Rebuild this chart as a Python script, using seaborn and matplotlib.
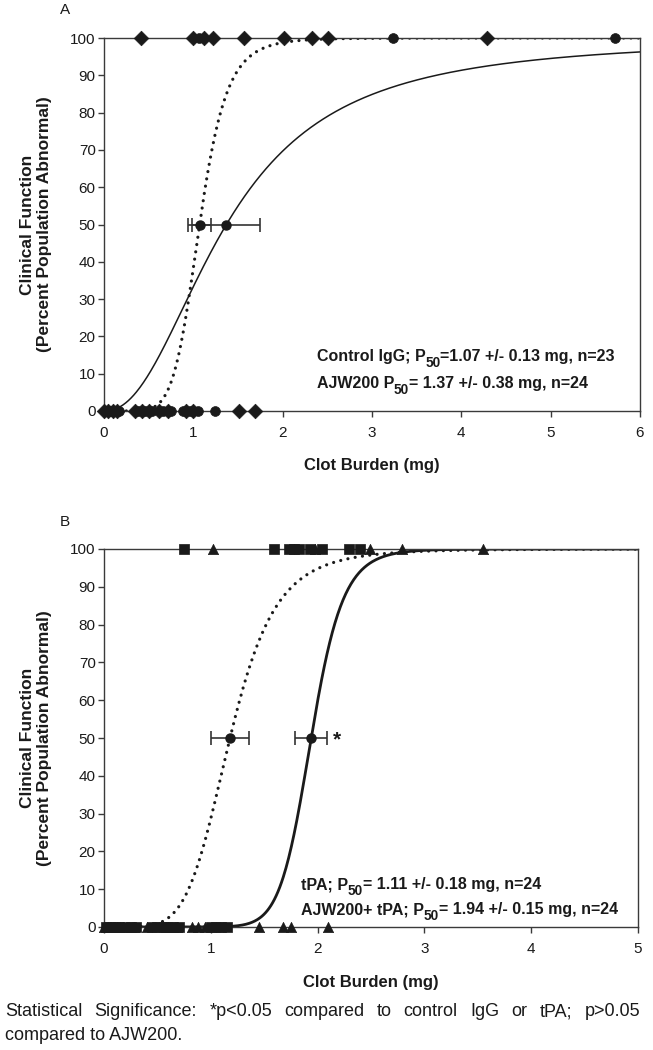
import numpy as np
import pandas as pd
import seaborn as sns
import matplotlib
matplotlib.use("Agg")
import matplotlib.pyplot as plt

# ---------------- data ----------------
# Panel A: single animals, 100 = abnormal, 0 = normal (clot burden in mg)
ajw_abnormal = [0.41, 1.00, 1.12, 1.22, 1.57, 2.02, 2.33, 2.51, 4.29]
ajw_normal = [0.00, 0.05, 0.10, 0.15, 0.35, 0.42, 0.50, 0.62, 0.72, 0.92, 1.00, 1.51, 1.69]
igg_abnormal = [1.06, 3.24, 5.72]
igg_normal = [0.02, 0.08, 0.17, 0.38, 0.46, 0.54, 0.66, 0.75, 0.88, 0.96, 1.05, 1.24]

# Panel B
tpa_abnormal = [0.75, 1.59, 1.73, 1.78, 1.83, 1.93, 2.04, 2.29, 2.40]
tpa_normal = [0.02, 0.06, 0.10, 0.14, 0.20, 0.25, 0.30, 0.45, 0.50, 0.55, 0.60,
              0.65, 0.70, 1.00, 1.05, 1.10, 1.15]
combo_abnormal = [1.02, 1.98, 2.49, 2.79, 3.55]
combo_normal = [0.00, 0.04, 0.08, 0.12, 0.18, 0.28, 0.40, 0.58, 0.68, 0.82, 0.88,
                0.95, 1.45, 1.68, 1.75, 2.10]

# fitted dose-response curves: P50 (mg), +/- error, hill slope
igg_p50, igg_err, igg_hill = 1.07, 0.13, 7.0
ajw_p50, ajw_err, ajw_hill = 1.37, 0.38, 2.2
tpa_p50, tpa_err, tpa_hill = 1.18, 0.18, 5.5
combo_p50, combo_err, combo_hill = 1.94, 0.15, 13.0

yticks = list(range(0, 101, 10))

# ---------------- style ----------------
sns.set_style("ticks")
plt.rcParams['font.family'] = ['Liberation Sans', 'DejaVu Sans']

INK = '#1a1a1a'
SPINE = '#3a3a3a'

fig = plt.figure(figsize=(6.53, 10.5), dpi=100)
W, H = 653, 1050
axA = fig.add_axes([104 / W, 1 - 411 / H, 536 / W, 373 / H])
axB = fig.add_axes([104 / W, 1 - 927 / H, 534 / W, 378 / H])
renderer = fig.canvas.get_renderer()


def hill(x, p50, h):
    return 100.0 / (1.0 + (p50 / x) ** h)


def draw_curve(ax, xmax, p50, h, dotted, lw):
    xs = np.linspace(0.002, xmax, 600)
    df = pd.DataFrame({'x': xs, 'y': hill(xs, p50, h)})
    kw = dict(color=INK, linewidth=lw)
    if dotted:
        kw.update(linestyle=(0, (0.01, 2.3)), dash_capstyle='round')
    sns.lineplot(data=df, x='x', y='y', ax=ax, **kw)


def draw_points(ax, xs, level, marker, size):
    df = pd.DataFrame({'x': xs, 'y': [level] * len(xs)})
    sns.scatterplot(data=df, x='x', y='y', ax=ax, marker=marker, s=size,
                    color=INK, edgecolor=INK, linewidth=0.5, clip_on=False, zorder=5)


def rich_text(ax, x, y, parts, size=11.5):
    # parts: (text, relative size, vertical shift in points) -> P with a large subscript 50
    off = 0.0
    for s, rel, dy in parts:
        t = ax.annotate(s, xy=(x, y), xytext=(off, dy), textcoords='offset points',
                        fontsize=size * rel, fontweight='bold', color=INK,
                        va='baseline', ha='left')
        off += t.get_window_extent(renderer).width * 72 / fig.dpi


def style_axes(ax, xmax):
    ax.set_xlim(0, xmax)
    ax.set_ylim(0, 100)
    ax.set_xticks(range(0, xmax + 1))
    ax.set_yticks(yticks)
    for s in ax.spines.values():
        s.set_visible(True)
        s.set_color(SPINE)
        s.set_linewidth(1.0)
    ax.tick_params(axis='y', length=4, width=1, color=SPINE, pad=2, labelsize=11, labelcolor=INK)
    ax.tick_params(axis='x', length=4, width=1, color=SPINE, pad=7, labelsize=11, labelcolor=INK)
    ax.set_xlabel('Clot Burden (mg)', fontsize=12, fontweight='bold', color=INK)
    ax.set_ylabel('Clinical Function\n(Percent Population Abnormal)', fontsize=12.5,
                  fontweight='bold', color=INK, linespacing=1.2)
    ax.yaxis.set_label_coords(-0.097, 0.5)


# ---------------- panel A ----------------
draw_curve(axA, 6, ajw_p50, ajw_hill, dotted=False, lw=1.1)
draw_curve(axA, 6, igg_p50, igg_hill, dotted=True, lw=2.3)
draw_points(axA, ajw_abnormal, 100, 'D', 55)
draw_points(axA, ajw_normal, 0, 'D', 55)
draw_points(axA, igg_abnormal, 100, 'o', 50)
draw_points(axA, igg_normal, 0, 'o', 50)
for p, e in [(igg_p50, igg_err), (ajw_p50, ajw_err)]:
    axA.errorbar(p, 50, xerr=e, fmt='o', ms=6.5, color=INK, ecolor='#333333',
                 elinewidth=1.2, capsize=5, capthick=1.2, zorder=6)
style_axes(axA, 6)
axA.xaxis.set_label_coords(0.5, -0.125)
rich_text(axA, 2.38, 13.4, [('Control IgG; P', 1, 0), ('50', 0.85, -4.5),
                            ('=1.07 +/- 0.13 mg, n=23', 1, 0)])
rich_text(axA, 2.38, 6.2, [('AJW200 P', 1, 0), ('50', 0.85, -4.5),
                           ('= 1.37 +/- 0.38 mg, n=24', 1, 0)])

# ---------------- panel B ----------------
draw_curve(axB, 5, combo_p50, combo_hill, dotted=False, lw=2.0)
draw_curve(axB, 5, tpa_p50, tpa_hill, dotted=True, lw=2.3)
draw_points(axB, tpa_abnormal, 100, 's', 42)
draw_points(axB, tpa_normal, 0, 's', 42)
draw_points(axB, combo_abnormal, 100, '^', 55)
draw_points(axB, combo_normal, 0, '^', 55)
for p, e in [(tpa_p50, tpa_err), (combo_p50, combo_err)]:
    axB.errorbar(p, 50, xerr=e, fmt='o', ms=6.5, color=INK, ecolor='#333333',
                 elinewidth=1.2, capsize=5, capthick=1.2, zorder=6)
axB.text(combo_p50 + combo_err + 0.05, 49.5, '*', fontsize=15, fontweight='bold',
         color=INK, va='center')
style_axes(axB, 5)
axB.xaxis.set_label_coords(0.5, -0.128)
rich_text(axB, 1.84, 10.0, [('tPA; P', 1, 0), ('50', 0.85, -4.5),
                            ('= 1.11 +/- 0.18 mg, n=24', 1, 0)])
rich_text(axB, 1.84, 3.4, [('AJW200+ tPA; P', 1, 0), ('50', 0.85, -4.5),
                           ('= 1.94 +/- 0.15 mg, n=24', 1, 0)])

# panel letters
fig.text(60 / W, 1 - 10 / H, 'A', fontsize=11, color=INK, va='center')
fig.text(60 / W, 1 - 522 / H, 'B', fontsize=11, color=INK, va='center')

# ---------------- caption (first line justified) ----------------
caption_1 = 'Statistical Significance: *p<0.05 compared to control IgG or tPA; p>0.05'
caption_2 = 'compared to AJW200.'
words = caption_1.split()
texts = [fig.text(0, 1 - 1012 / H, w, fontsize=13, color=INK, va='center') for w in words]
widths = [t.get_window_extent(renderer).width for t in texts]
x_left, x_right = 5, 640
gap = (x_right - x_left - sum(widths)) / (len(words) - 1)
xpos = x_left
for t, w in zip(texts, widths):
    t.set_x(xpos / W)
    xpos += w + gap
fig.text(5 / W, 1 - 1036 / H, caption_2, fontsize=13, color=INK, va='center')

fig.savefig('out.png', dpi=100)
